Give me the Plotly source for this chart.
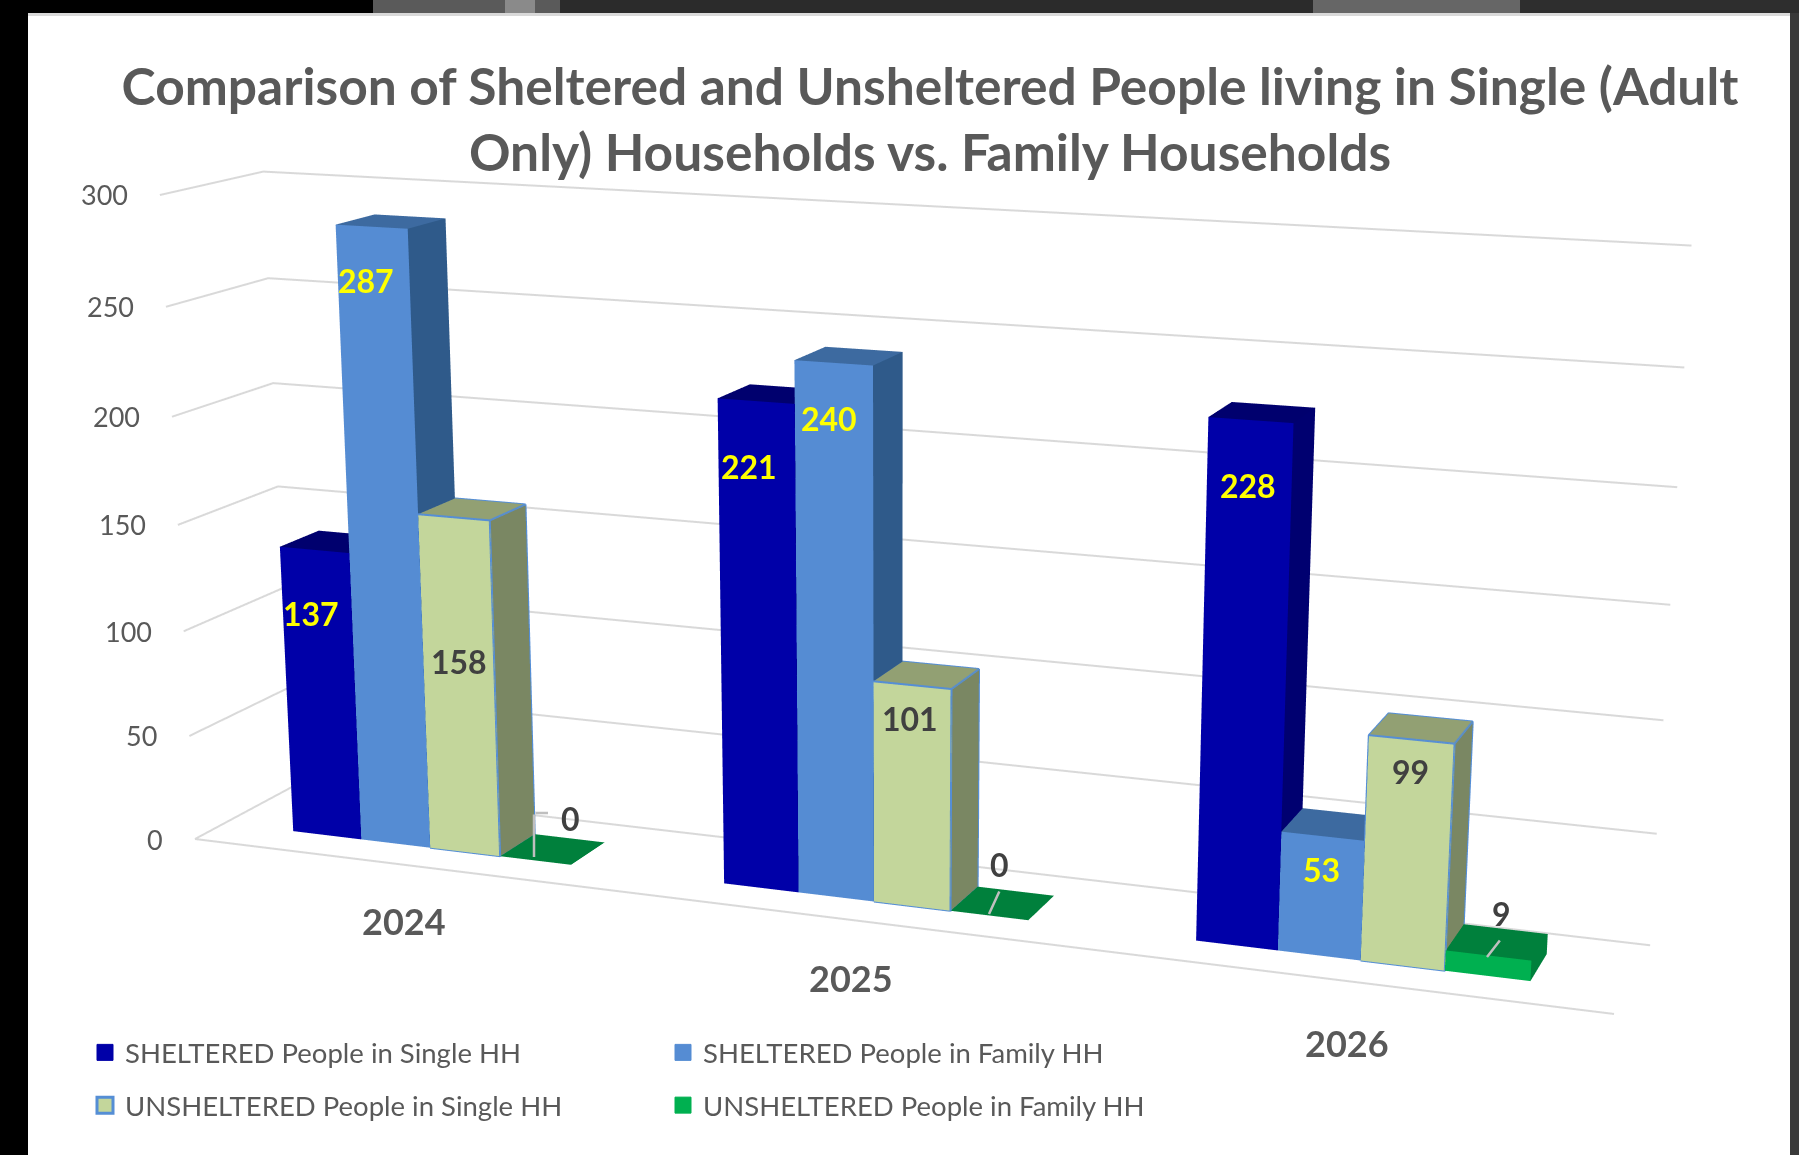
import math
import plotly.graph_objects as go

# ---------- data ----------
years = ["2024", "2025", "2026"]
sheltered_single = [137, 221, 228]
sheltered_family = [287, 240, 53]
unsheltered_single = [158, 101, 99]
unsheltered_family = [0, 0, 9]
value_ticks = [0, 50, 100, 150, 200, 250, 300]

W, H = 1799, 1155
TEXT = "#595959"

# ---------- view: a frontal camera, and the chart's box set obliquely in the scene ----------
F = (H / 2) / math.tan(math.pi / 8)
CX, CY = W / 2, H / 2
VP_CAT = (-9188, -318)
VP_DEPTH = (2300, -290)
VP_VAL = (896, 13700)
ORIGIN_PX = (195, 839)
FRONT_RIGHT_X = 1614
BACK_LEFT_X = 292
TOP_Y = 195


def direction(vp, sign):
    return (sign * (vp[0] - CX), sign * F, -sign * (vp[1] - CY))


O = (ORIGIN_PX[0] - CX, 0.0, CY - ORIGIN_PX[1])


def solve_x(d, px):
    a = px - CX
    return (a * (F + O[1]) - F * O[0]) / (F * d[0] - a * d[1])


def solve_y(d, py):
    a = CY - py
    return (a * (F + O[1]) - F * O[2]) / (F * d[2] - a * d[1])


dx = direction(VP_CAT, -1)
dd = direction(VP_DEPTH, 1)
dz = direction(VP_VAL, -1)
tx, td, tz = solve_x(dx, FRONT_RIGHT_X), solve_x(dd, BACK_LEFT_X), solve_y(dz, TOP_Y)
N_CAT = len(years)
AXIS_MAX = value_ticks[-1]


def pt(u, v, w):
    """u: category units, v: 0-1 depth across the floor, w: axis value."""
    a, b, c = u / N_CAT * tx, v * td, w / AXIS_MAX * tz
    return tuple(O[i] + a * dx[i] + b * dd[i] + c * dz[i] for i in range(3))


def px(u, v, w):
    p = pt(u, v, w)
    s = F / (F + p[1])
    return CX + p[0] * s, CY - p[2] * s


GAP = 0.345
BAR_W = (1 - GAP) / 4
V0, V1 = 0.30, 0.70

series = [
    ("SHELTERED People in Single HH", sheltered_single, "#0000A8", "#00006E", "#000070", None),
    ("SHELTERED People in Family HH", sheltered_family, "#558CD3", "#3D6AA0", "#2F5A8A", None),
    ("UNSHELTERED People in Single HH", unsheltered_single, "#C3D69B", "#92A073", "#7A8763", "#558ED5"),
    ("UNSHELTERED People in Family HH", unsheltered_family, "#00B050", "#00803C", "#00803C", None),
]

fig = go.Figure()

# ---------- gridlines ----------
gx, gy, gz = [], [], []
for t in value_ticks:
    for q in (pt(0, 0, t), pt(0, 1, t), pt(N_CAT, 1, t)):
        gx.append(q[0]); gy.append(q[1]); gz.append(q[2])
    gx.append(None); gy.append(None); gz.append(None)
for q in (pt(0, 0, 0), pt(N_CAT, 0, 0)):
    gx.append(q[0]); gy.append(q[1]); gz.append(q[2])
fig.add_trace(go.Scatter3d(x=gx, y=gy, z=gz, mode="lines", line=dict(color="#D9D9D9", width=4),
                           showlegend=False, hoverinfo="skip"))

# ---------- bars ----------
for s, (name, vals, front, top, side, edge) in enumerate(series):
    xs, ys, zs, I, J, K, fc = [], [], [], [], [], [], []
    lx, ly, lz = [], [], []

    def quad(a, b, c, d, col):
        n = len(xs)
        for q in (a, b, c, d):
            xs.append(q[0]); ys.append(q[1]); zs.append(q[2])
        I.extend([n, n]); J.extend([n + 1, n + 2]); K.extend([n + 2, n + 3]); fc.extend([col, col])

    for c, val in enumerate(vals):
        u0 = c + GAP / 2 - 0.006 + s * BAR_W
        u1 = u0 + BAR_W
        quad(pt(u0, V0, val), pt(u1, V0, val), pt(u1, V1, val), pt(u0, V1, val), top)
        if val > 0:
            quad(pt(u0, V0, 0), pt(u1, V0, 0), pt(u1, V0, val), pt(u0, V0, val), front)
            quad(pt(u1, V0, 0), pt(u1, V1, 0), pt(u1, V1, val), pt(u1, V0, val), side)
        if edge:
            path = [(u0, V0, 0), (u1, V0, 0), (u1, V0, val), (u0, V0, val), (u0, V0, 0), None,
                    (u0, V0, val), (u0, V1, val), (u1, V1, val), (u1, V0, val), None,
                    (u1, V1, val), (u1, V1, 0), (u1, V0, 0), None]
            for a in path:
                q = pt(*a) if a else (None, None, None)
                lx.append(q[0]); ly.append(q[1]); lz.append(q[2])
    fig.add_trace(go.Mesh3d(x=xs, y=ys, z=zs, i=I, j=J, k=K, facecolor=fc, flatshading=True,
                            lighting=dict(ambient=1, diffuse=0, specular=0, fresnel=0, roughness=1),
                            showlegend=False, hoverinfo="skip", name=name))
    if edge:
        fig.add_trace(go.Scatter3d(x=lx, y=ly, z=lz, mode="lines", line=dict(color=edge, width=4),
                                   showlegend=False, hoverinfo="skip"))

# ---------- legend ----------
for s, (name, vals, front, top, side, edge) in enumerate(series):
    fig.add_trace(go.Scatter3d(
        x=[None], y=[None], z=[None], mode="markers", name=name,
        marker=dict(symbol="square", size=16, color=front,
                    line=dict(color=edge or front, width=3 if edge else 1)),
        legend="legend" if s % 2 == 0 else "legend2",
        legendgroup=name, showlegend=True, hoverinfo="skip"))


def ax(x):
    return x / W


def ay(y):
    return 1 - y / H


annotations = []


def label(x, y, text, size, color, bold=False, xanchor="center"):
    annotations.append(dict(x=ax(x), y=ay(y), xref="paper", yref="paper", showarrow=False,
                            text=f"<b>{text}</b>" if bold else text, xanchor=xanchor, yanchor="middle",
                            font=dict(family="Lato", size=size, color=color)))


def leader(x0, y0, x1, y1):
    annotations.append(dict(x=ax(x1), y=ay(y1), xref="paper", yref="paper", text="", showarrow=True,
                            arrowhead=0, arrowwidth=2.5, arrowcolor="#BFBFBF", standoff=0,
                            axref="pixel", ayref="pixel", ax=x0 - x1, ay=y0 - y1))


# value-axis labels
for t in value_ticks:
    x, y = px(0, 0, t)
    label(x - 30, y, str(t), 27, TEXT, xanchor="right")

# category labels
for (x, y), yr in zip([(404, 921), (851, 978), (1347, 1043)], years):
    label(x, y, yr, 36, TEXT, bold=True)

# data labels
label_pos = [
    [(311, 613), (366, 280), (459, 661), (570, 818)],
    [(749, 466), (829, 419), (910, 718), (999, 864)],
    [(1248, 486), (1321, 869), (1410, 771), (1501, 913)],
]
yellow = "#FFFF00"
dark = "#404040"
for c in range(3):
    for s, (name, vals, *_rest) in enumerate(series):
        x, y = label_pos[c][s]
        label(x, y, str(vals[c]), 32, yellow if s < 2 else dark, bold=True)

# leader lines of the small bars' labels
leader(534, 813, 534, 857)
leader(534, 813, 548, 813)
leader(1000, 890, 989, 914)
leader(1501, 939, 1487, 957)


def rect(x0, y0, x1, y1, color):
    return dict(type="rect", xref="paper", yref="paper", x0=ax(x0), x1=ax(x1), y0=ay(y0), y1=ay(y1),
                fillcolor=color, line=dict(width=0), layer="below")


shapes = [
    rect(373, 0, 560, 13, "#5A5A5A"),
    rect(505, 0, 535, 13, "#8A8A8A"),
    rect(560, 0, 1313, 13, "#2B2B2B"),
    rect(1313, 0, 1520, 13, "#666666"),
    rect(1520, 0, 1799, 13, "#2E2E2E"),
    rect(1790, 13, 1799, 1155, "#3A3A3A"),
    rect(28, 13, 1790, 1155, "#FFFFFF"),
    rect(28, 13, 1790, 16, "#D9D9D9"),
]

allp = [pt(u, v, w) for u in (0, N_CAT) for v in (0, 1) for w in (0, AXIS_MAX)]
R = math.ceil(max(abs(c) for p in allp for c in p) * 1.2)

hidden = dict(visible=False, range=[-R, R], autorange=False, showgrid=False, zeroline=False,
              showbackground=False, showticklabels=False, showspikes=False, title="")
legend_common = dict(orientation="v", bgcolor="rgba(0,0,0,0)", borderwidth=0, tracegroupgap=14,
                     yanchor="top", xanchor="left", itemclick=False, itemdoubleclick=False,
                     font=dict(family="Lato", size=27.5, color=TEXT))
fig.update_layout(
    width=W, height=H, autosize=False,
    margin=dict(l=0, r=0, t=0, b=0),
    paper_bgcolor="#000000",
    shapes=shapes,
    annotations=annotations,
    title=dict(text="<b>Comparison of Sheltered and Unsheltered People living in Single (Adult<br>"
                    "Only) Households vs. Family Households</b>",
               x=ax(930), xanchor="center", y=ay(104.5), yanchor="top", yref="paper",
               font=dict(family="Lato", size=51.5, color=TEXT)),
    scene=dict(
        domain=dict(x=[0, 1], y=[0, 1]),
        xaxis=hidden, yaxis=hidden, zaxis=hidden,
        aspectmode="manual", aspectratio=dict(x=1, y=1, z=1),
        bgcolor="rgba(0,0,0,0)",
        camera=dict(eye=dict(x=0, y=-F / (2 * R), z=0), center=dict(x=0, y=0, z=0),
                    up=dict(x=0, y=0, z=1), projection=dict(type="perspective")),
    ),
    legend=dict(x=ax(85), y=ay(1028), **legend_common),
    legend2=dict(x=ax(663), y=ay(1028), **legend_common),
)

fig.write_html("out.html", config=dict(displayModeBar=False),
               post_script="document.body.style.margin='0';document.body.style.background='#000';"
                           "document.documentElement.style.overflow='hidden';")
